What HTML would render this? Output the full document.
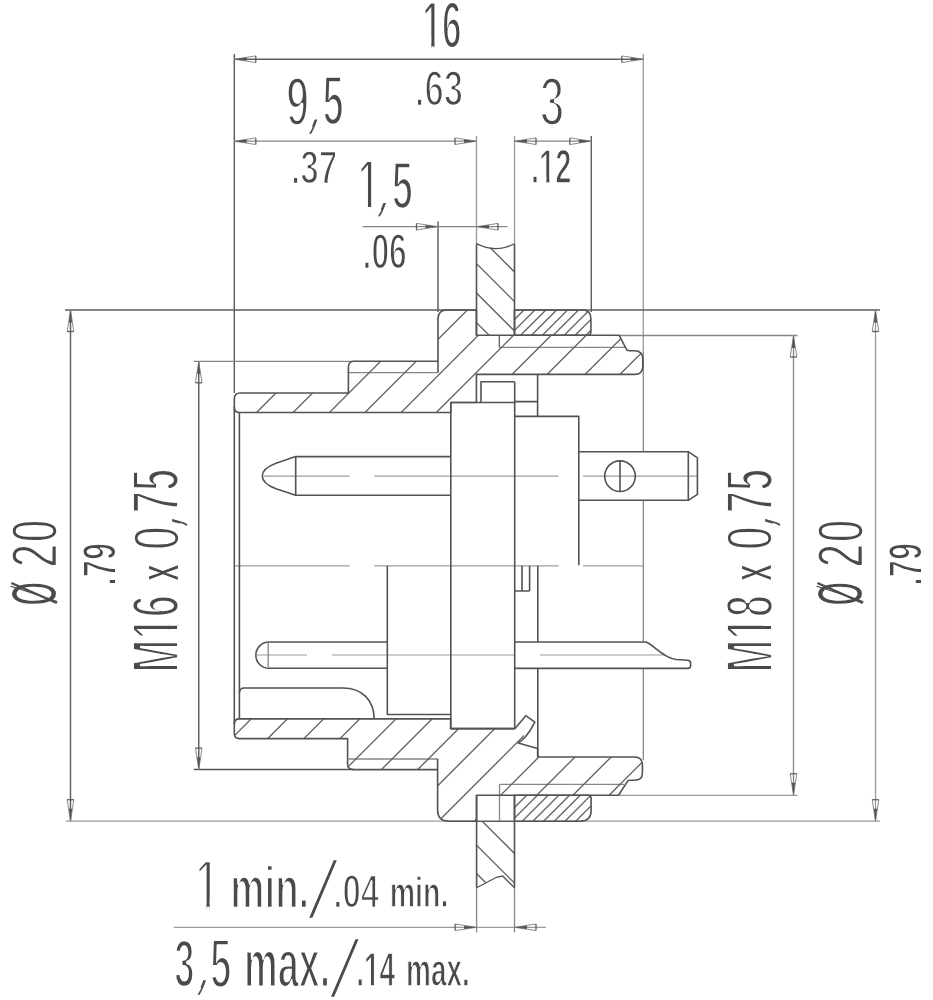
<!DOCTYPE html>
<html lang="en">
<head>
<meta charset="utf-8">
<title>Connector dimension drawing</title>
<style>
html,body{margin:0;padding:0;background:#fff;}
body{width:933px;height:1000px;overflow:hidden;font-family:"Liberation Sans",sans-serif;}
svg{display:block;filter:blur(0.7px);}
</style>
</head>
<body>
<svg width="933" height="1000" viewBox="0 0 933 1000">
<rect width="933" height="1000" fill="#fff"/>
<g fill="none" stroke-linecap="butt">
<line x1="234.30" y1="54.00" x2="234.30" y2="393.00" stroke="#5e5e5e" stroke-width="1.45"/>
<line x1="643.30" y1="54.00" x2="643.30" y2="352.00" stroke="#9a9a9a" stroke-width="1.3"/>
<line x1="643.30" y1="352.00" x2="643.30" y2="451.70" stroke="#868686" stroke-width="1.3"/>
<line x1="643.30" y1="500.30" x2="643.30" y2="642.00" stroke="#868686" stroke-width="1.3"/>
<line x1="643.30" y1="668.40" x2="643.30" y2="760.00" stroke="#868686" stroke-width="1.3"/>
<line x1="234.30" y1="59.20" x2="643.30" y2="59.20" stroke="#5e5e5e" stroke-width="1.45"/>
<line x1="234.30" y1="141.20" x2="476.50" y2="141.20" stroke="#868686" stroke-width="1.3"/>
<line x1="476.50" y1="136.00" x2="476.50" y2="243.70" stroke="#9a9a9a" stroke-width="1.3"/>
<line x1="514.50" y1="136.00" x2="514.50" y2="243.70" stroke="#9a9a9a" stroke-width="1.3"/>
<line x1="591.30" y1="136.00" x2="591.30" y2="312.00" stroke="#5e5e5e" stroke-width="1.45"/>
<line x1="514.50" y1="141.20" x2="591.30" y2="141.20" stroke="#868686" stroke-width="1.3"/>
<line x1="362.50" y1="226.70" x2="507.50" y2="226.70" stroke="#868686" stroke-width="1.3"/>
<line x1="438.00" y1="221.50" x2="438.00" y2="312.00" stroke="#5e5e5e" stroke-width="1.45"/>
<line x1="70.50" y1="310.00" x2="70.50" y2="821.20" stroke="#5e5e5e" stroke-width="1.45"/>
<line x1="65.00" y1="310.00" x2="476.40" y2="310.00" stroke="#5e5e5e" stroke-width="1.45"/>
<line x1="514.50" y1="310.00" x2="880.00" y2="310.00" stroke="#5e5e5e" stroke-width="1.45"/>
<line x1="66.00" y1="821.20" x2="476.50" y2="821.20" stroke="#9a9a9a" stroke-width="1.3"/>
<line x1="514.50" y1="821.20" x2="880.00" y2="821.20" stroke="#9a9a9a" stroke-width="1.3"/>
<line x1="476.50" y1="821.20" x2="514.50" y2="821.20" stroke="#5e5e5e" stroke-width="1.4"/>
<line x1="198.75" y1="361.30" x2="198.75" y2="769.60" stroke="#5e5e5e" stroke-width="1.45"/>
<line x1="193.75" y1="361.30" x2="356.00" y2="361.30" stroke="#868686" stroke-width="1.3"/>
<line x1="193.75" y1="769.60" x2="353.60" y2="769.60" stroke="#535353" stroke-width="1.5"/>
<line x1="793.50" y1="335.50" x2="793.50" y2="795.30" stroke="#868686" stroke-width="1.3"/>
<line x1="619.00" y1="335.50" x2="797.50" y2="335.50" stroke="#868686" stroke-width="1.3"/>
<line x1="618.50" y1="795.30" x2="797.50" y2="795.30" stroke="#9a9a9a" stroke-width="1.3"/>
<line x1="875.50" y1="310.00" x2="875.50" y2="821.20" stroke="#9a9a9a" stroke-width="1.3"/>
<line x1="173.75" y1="927.30" x2="546.00" y2="927.30" stroke="#9a9a9a" stroke-width="1.3"/>
<line x1="476.60" y1="887.80" x2="476.60" y2="932.50" stroke="#868686" stroke-width="1.3"/>
<line x1="514.50" y1="887.80" x2="514.50" y2="932.50" stroke="#868686" stroke-width="1.3"/>
<line x1="234.30" y1="565.80" x2="349.80" y2="565.80" stroke="#9c9c9c" stroke-width="1.2"/>
<line x1="374.20" y1="565.80" x2="558.60" y2="565.80" stroke="#9c9c9c" stroke-width="1.2"/>
<line x1="583.00" y1="565.80" x2="643.30" y2="565.80" stroke="#9c9c9c" stroke-width="1.2"/>
<line x1="263.60" y1="476.20" x2="349.80" y2="476.20" stroke="#9c9c9c" stroke-width="1.2"/>
<line x1="374.20" y1="476.20" x2="558.60" y2="476.20" stroke="#9c9c9c" stroke-width="1.2"/>
<line x1="583.00" y1="476.20" x2="697.40" y2="476.20" stroke="#9c9c9c" stroke-width="1.2"/>
<line x1="257.00" y1="655.00" x2="307.00" y2="655.00" stroke="#9c9c9c" stroke-width="1.2"/>
<line x1="331.80" y1="655.00" x2="515.00" y2="655.00" stroke="#9c9c9c" stroke-width="1.2"/>
<line x1="540.00" y1="655.00" x2="665.00" y2="655.00" stroke="#9c9c9c" stroke-width="1.2"/>
<line x1="348.60" y1="372.60" x2="438.00" y2="372.60" stroke="#868686" stroke-width="1.3"/>
<line x1="348.60" y1="759.00" x2="438.00" y2="759.00" stroke="#868686" stroke-width="1.3"/>
<line x1="499.30" y1="347.30" x2="626.00" y2="347.30" stroke="#868686" stroke-width="1.3"/>
<line x1="499.50" y1="784.30" x2="624.00" y2="784.30" stroke="#868686" stroke-width="1.3"/>
<line x1="499.50" y1="784.30" x2="499.50" y2="821.20" stroke="#868686" stroke-width="1.3"/>
<line x1="499.30" y1="335.30" x2="499.30" y2="347.30" stroke="#5e5e5e" stroke-width="1.3"/>
</g>
<defs>
<clipPath id="cu"><path d="M234.3,399 Q234.3,393 240.3,393 L348.4,393 L348.4,367 Q348.4,361.3 354,361.3 L438,361.3 L438,319 Q438,310 447,310 L476.4,310 L476.4,335.3 L619.2,335.3 L626.8,350 Q628,350.7 630,350.7 L634.5,350.7 Q642.8,350.7 642.8,359 L642.8,366.2 Q642.8,374.4 634.6,374.4 L476.4,374.4 L476.4,402.5 L450.8,402.5 L450.8,412.5 L239.5,412.5 Q234.3,412.5 234.3,407.3 Z"/></clipPath>
<clipPath id="cl"><path d="M234.3,733.6 Q234.3,738.6 239.3,738.6 L347.6,738.6 L347.6,764 Q347.6,769.6 353.6,769.6 L437.6,769.6 L437.6,810 Q437.6,821.2 448.8,821.2 L476.5,821.2 L476.5,795.3 L618.5,795.3 L628,780.6 Q629,780.3 631,780.3 L634.5,780.3 Q642.4,780.3 642.4,773 L642.4,765 Q642.4,757 634.6,757 L537.6,757 L537.6,748.5 L518.2,743 Q522,740.6 525.5,736.8 L521,733 L514.4,728.6 L450.6,728.6 L450.6,718.9 L239.5,718.9 Q234.3,718.9 234.3,724 Z"/></clipPath>
<clipPath id="cnu"><path d="M514.5,310 L582.5,310 Q590.9,310 590.9,318.4 L590.9,331.8 Q590.9,335.3 587.4,335.3 L514.5,335.3 Z"/></clipPath>
<clipPath id="cnl"><path d="M514.5,821.2 L580.5,821.2 Q591.1,821.2 591.1,810.6 L591.1,798.3 Q591.1,795.3 588.1,795.3 L514.5,795.3 Z"/></clipPath>
<clipPath id="cpu"><path d="M476.5,243.7 Q495.8,253.6 514.5,243.7 L514.5,335.3 L476.5,335.3 Z"/></clipPath>
<clipPath id="cpl"><path d="M476.6,821.2 L514.5,821.2 L514.5,887.8 L502.5,876 L496.5,877.3 L476.6,887.8 Z"/></clipPath>
</defs>
<g clip-path="url(#cu)" stroke="#5e5e5e" stroke-width="1.3" fill="none">
<line x1="-331.00" y1="1000" x2="669.00" y2="0"/>
<line x1="-294.40" y1="1000" x2="705.60" y2="0"/>
<line x1="-258.10" y1="1000" x2="741.90" y2="0"/>
<line x1="-222.60" y1="1000" x2="777.40" y2="0"/>
<line x1="-186.40" y1="1000" x2="813.60" y2="0"/>
<line x1="-151.20" y1="1000" x2="848.80" y2="0"/>
<line x1="-113.50" y1="1000" x2="886.50" y2="0"/>
<line x1="-78.50" y1="1000" x2="921.50" y2="0"/>
<line x1="-40.50" y1="1000" x2="959.50" y2="0"/>
<line x1="-5.70" y1="1000" x2="994.30" y2="0"/>
</g>
<g clip-path="url(#cl)" stroke="#5e5e5e" stroke-width="1.3" fill="none">
<line x1="-29.90" y1="1000" x2="970.10" y2="0"/>
<line x1="6.29" y1="1000" x2="1006.29" y2="0"/>
<line x1="42.48" y1="1000" x2="1042.48" y2="0"/>
<line x1="78.67" y1="1000" x2="1078.67" y2="0"/>
<line x1="114.86" y1="1000" x2="1114.86" y2="0"/>
<line x1="151.05" y1="1000" x2="1151.05" y2="0"/>
<line x1="187.24" y1="1000" x2="1187.24" y2="0"/>
<line x1="223.43" y1="1000" x2="1223.43" y2="0"/>
<line x1="259.62" y1="1000" x2="1259.62" y2="0"/>
<line x1="295.81" y1="1000" x2="1295.81" y2="0"/>
<line x1="332.00" y1="1000" x2="1332.00" y2="0"/>
<line x1="368.19" y1="1000" x2="1368.19" y2="0"/>
<line x1="404.38" y1="1000" x2="1404.38" y2="0"/>
</g>
<g clip-path="url(#cnu)" stroke="#5e5e5e" stroke-width="1.3" fill="none">
<line x1="-166.00" y1="1000" x2="834.00" y2="0"/>
<line x1="-155.10" y1="1000" x2="844.90" y2="0"/>
<line x1="-144.20" y1="1000" x2="855.80" y2="0"/>
<line x1="-133.30" y1="1000" x2="866.70" y2="0"/>
<line x1="-122.40" y1="1000" x2="877.60" y2="0"/>
<line x1="-111.50" y1="1000" x2="888.50" y2="0"/>
<line x1="-100.60" y1="1000" x2="899.40" y2="0"/>
<line x1="-89.70" y1="1000" x2="910.30" y2="0"/>
<line x1="-78.80" y1="1000" x2="921.20" y2="0"/>
</g>
<g clip-path="url(#cnl)" stroke="#5e5e5e" stroke-width="1.3" fill="none">
<line x1="322.00" y1="1000" x2="1322.00" y2="0"/>
<line x1="332.70" y1="1000" x2="1332.70" y2="0"/>
<line x1="343.40" y1="1000" x2="1343.40" y2="0"/>
<line x1="354.10" y1="1000" x2="1354.10" y2="0"/>
<line x1="364.80" y1="1000" x2="1364.80" y2="0"/>
<line x1="375.50" y1="1000" x2="1375.50" y2="0"/>
<line x1="386.20" y1="1000" x2="1386.20" y2="0"/>
<line x1="396.90" y1="1000" x2="1396.90" y2="0"/>
<line x1="407.60" y1="1000" x2="1407.60" y2="0"/>
</g>
<g clip-path="url(#cpu)" stroke="#5e5e5e" stroke-width="1.3" fill="none">
<line x1="242.50" y1="0" x2="1242.50" y2="1000"/>
<line x1="212.90" y1="0" x2="1212.90" y2="1000"/>
<line x1="183.50" y1="0" x2="1183.50" y2="1000"/>
<line x1="153.90" y1="0" x2="1153.90" y2="1000"/>
</g>
<g clip-path="url(#cpl)" stroke="#5e5e5e" stroke-width="1.3" fill="none">
<line x1="-339.00" y1="0" x2="661.00" y2="1000"/>
<line x1="-368.70" y1="0" x2="631.30" y2="1000"/>
<line x1="-397.00" y1="0" x2="603.00" y2="1000"/>
</g>
<g fill="none" stroke="#535353" stroke-width="1.6" stroke-linejoin="round">
<path d="M234.3,399 Q234.3,393 240.3,393 L348.4,393 L348.4,367 Q348.4,361.3 354,361.3 L438,361.3 L438,319 Q438,310 447,310 L476.4,310 L476.4,335.3 L619.2,335.3 L626.8,350 Q628,350.7 630,350.7 L634.5,350.7 Q642.8,350.7 642.8,359 L642.8,366.2 Q642.8,374.4 634.6,374.4 L476.4,374.4 L476.4,402.5 L450.8,402.5 L450.8,412.5 L239.5,412.5 Q234.3,412.5 234.3,407.3 Z"/>
<path d="M514.4,728.6 L450.6,728.6 L450.6,718.9 L239.5,718.9 Q234.3,718.9 234.3,724 L234.3,733.6 Q234.3,738.6 239.3,738.6 L347.6,738.6 L347.6,764 Q347.6,769.6 353.6,769.6 L437.6,769.6 L437.6,810 Q437.6,821.2 448.8,821.2 L476.5,821.2 L476.5,795.3 L618.5,795.3 L628,780.6 Q629,780.3 631,780.3 L634.5,780.3 Q642.4,780.3 642.4,773 L642.4,765 Q642.4,757 634.6,757 L537.6,757 L537.6,748.5"/>
<path d="M514.5,310 L582.5,310 Q590.9,310 590.9,318.4 L590.9,331.8 Q590.9,335.3 587.4,335.3 L514.5,335.3 Z"/>
<path d="M514.5,821.2 L580.5,821.2 Q591.1,821.2 591.1,810.6 L591.1,798.3 Q591.1,795.3 588.1,795.3 L514.5,795.3 Z"/>
<path d="M476.5,243.7 L476.5,335.3 M514.5,243.7 L514.5,335.3"/>
<path d="M476.5,243.7 Q495.8,253.6 514.5,243.7" stroke-width="1.3"/>
<path d="M476.6,795.3 L476.6,887.8 M514.5,795.3 L514.5,887.8"/>
<path d="M476.6,887.8 L496.5,877.3 L502.5,876 L514.5,887.8" stroke-width="1.3"/>
<path d="M438,361.3 L438,372.6 M437.6,769.6 L437.6,759"/>
<path d="M234.3,407 L234.3,724 M239.4,412.5 L239.4,718.9"/>
<path d="M450.8,402.5 L450.8,728.6 L514.5,728.6 M514.7,381.7 L514.7,728.6 M450.8,402.5 L514.7,402.5"/>
<path d="M481,402.5 L481,381.7 L514.7,381.7"/>
<path d="M514.7,401.6 L537.6,401.6 M537.6,374.4 L537.6,416.4 M514.7,416.4 L578.8,416.4 L578.8,565.2"/>
<path d="M578.8,451.7 L688.3,451.7 L697.4,457.8 L697.4,494.4 L688.3,500.3 L578.8,500.3 M688.3,451.7 L688.3,500.3"/>
<circle cx="620" cy="476.2" r="15.3"/>
<path d="M620,460.9 L620,491.5"/>
<path d="M450.8,456.6 L295.7,456.6 L276,463.2 Q262.3,468.4 262.3,476 Q262.3,483.6 276,488.8 L295.7,495.2 L450.8,495.2 M295.7,456.6 L295.7,495.2"/>
<path d="M387.3,565.8 L387.3,714.5 L450.8,714.5"/>
<path d="M387.3,642 L269,642 A13.15,13.15 0 0 0 269,668.3 L387.3,668.3"/>
<path d="M268.2,643 L268.2,667.5" stroke="#868686" stroke-width="1.3"/>
<path d="M522,565.8 L522,591 M529.6,565.8 L529.6,591 M514.7,591 L529.6,591"/>
<path d="M537.8,565.8 L537.8,642 M537.8,668.4 L537.8,757"/>
<path d="M514.7,642 L646,642 C655.5,646 662,657.2 676,659.5 L687.5,660.2 Q690.6,660.4 690.6,663.2 L690.6,665.8 Q690.6,668.4 688,668.4 L514.7,668.4"/>
<path d="M239.4,693 Q239.4,688 244.4,688 L343,688 C362,688 374,700 374.2,718.9"/>
<path d="M514.6,729 L525.8,715.7 L534.8,722.2 Q530.5,731 525.5,736.8 Q522,740.6 518.2,743 L537.6,748.5"/>
</g>
<path d="M255.80,55.90 L234.30,59.20 L255.80,62.50" fill="none" stroke="#8c8c8c" stroke-width="1" stroke-linejoin="miter"/>
<path d="M255.80,55.90 L255.80,62.50" fill="none" stroke="#5e5e5e" stroke-width="1.3"/>
<path d="M234.30,59.20 L246.77,57.55 L246.77,60.85 Z" fill="#535353" stroke="none"/>
<path d="M621.80,62.50 L643.30,59.20 L621.80,55.90" fill="none" stroke="#8c8c8c" stroke-width="1" stroke-linejoin="miter"/>
<path d="M621.80,62.50 L621.80,55.90" fill="none" stroke="#5e5e5e" stroke-width="1.3"/>
<path d="M643.30,59.20 L630.83,60.85 L630.83,57.55 Z" fill="#535353" stroke="none"/>
<path d="M255.80,137.90 L234.30,141.20 L255.80,144.50" fill="none" stroke="#8c8c8c" stroke-width="1" stroke-linejoin="miter"/>
<path d="M255.80,137.90 L255.80,144.50" fill="none" stroke="#5e5e5e" stroke-width="1.3"/>
<path d="M234.30,141.20 L246.77,139.55 L246.77,142.85 Z" fill="#535353" stroke="none"/>
<path d="M455.00,144.50 L476.50,141.20 L455.00,137.90" fill="none" stroke="#8c8c8c" stroke-width="1" stroke-linejoin="miter"/>
<path d="M455.00,144.50 L455.00,137.90" fill="none" stroke="#5e5e5e" stroke-width="1.3"/>
<path d="M476.50,141.20 L464.03,142.85 L464.03,139.55 Z" fill="#535353" stroke="none"/>
<path d="M536.00,137.90 L514.50,141.20 L536.00,144.50" fill="none" stroke="#8c8c8c" stroke-width="1" stroke-linejoin="miter"/>
<path d="M536.00,137.90 L536.00,144.50" fill="none" stroke="#5e5e5e" stroke-width="1.3"/>
<path d="M514.50,141.20 L526.97,139.55 L526.97,142.85 Z" fill="#535353" stroke="none"/>
<path d="M569.80,144.50 L591.30,141.20 L569.80,137.90" fill="none" stroke="#8c8c8c" stroke-width="1" stroke-linejoin="miter"/>
<path d="M569.80,144.50 L569.80,137.90" fill="none" stroke="#5e5e5e" stroke-width="1.3"/>
<path d="M591.30,141.20 L578.83,142.85 L578.83,139.55 Z" fill="#535353" stroke="none"/>
<path d="M416.50,230.00 L438.00,226.70 L416.50,223.40" fill="none" stroke="#8c8c8c" stroke-width="1" stroke-linejoin="miter"/>
<path d="M416.50,230.00 L416.50,223.40" fill="none" stroke="#5e5e5e" stroke-width="1.3"/>
<path d="M438.00,226.70 L425.53,228.35 L425.53,225.05 Z" fill="#535353" stroke="none"/>
<path d="M498.00,223.40 L476.50,226.70 L498.00,230.00" fill="none" stroke="#8c8c8c" stroke-width="1" stroke-linejoin="miter"/>
<path d="M498.00,223.40 L498.00,230.00" fill="none" stroke="#5e5e5e" stroke-width="1.3"/>
<path d="M476.50,226.70 L488.97,225.05 L488.97,228.35 Z" fill="#535353" stroke="none"/>
<path d="M73.80,331.50 L70.50,310.00 L67.20,331.50" fill="none" stroke="#8c8c8c" stroke-width="1" stroke-linejoin="miter"/>
<path d="M73.80,331.50 L67.20,331.50" fill="none" stroke="#5e5e5e" stroke-width="1.3"/>
<path d="M70.50,310.00 L72.15,322.47 L68.85,322.47 Z" fill="#535353" stroke="none"/>
<path d="M67.20,799.70 L70.50,821.20 L73.80,799.70" fill="none" stroke="#8c8c8c" stroke-width="1" stroke-linejoin="miter"/>
<path d="M67.20,799.70 L73.80,799.70" fill="none" stroke="#5e5e5e" stroke-width="1.3"/>
<path d="M70.50,821.20 L68.85,808.73 L72.15,808.73 Z" fill="#535353" stroke="none"/>
<path d="M202.05,382.80 L198.75,361.30 L195.45,382.80" fill="none" stroke="#8c8c8c" stroke-width="1" stroke-linejoin="miter"/>
<path d="M202.05,382.80 L195.45,382.80" fill="none" stroke="#5e5e5e" stroke-width="1.3"/>
<path d="M198.75,361.30 L200.40,373.77 L197.10,373.77 Z" fill="#535353" stroke="none"/>
<path d="M195.45,748.10 L198.75,769.60 L202.05,748.10" fill="none" stroke="#8c8c8c" stroke-width="1" stroke-linejoin="miter"/>
<path d="M195.45,748.10 L202.05,748.10" fill="none" stroke="#5e5e5e" stroke-width="1.3"/>
<path d="M198.75,769.60 L197.10,757.13 L200.40,757.13 Z" fill="#535353" stroke="none"/>
<path d="M796.80,357.00 L793.50,335.50 L790.20,357.00" fill="none" stroke="#8c8c8c" stroke-width="1" stroke-linejoin="miter"/>
<path d="M796.80,357.00 L790.20,357.00" fill="none" stroke="#5e5e5e" stroke-width="1.3"/>
<path d="M793.50,335.50 L795.15,347.97 L791.85,347.97 Z" fill="#535353" stroke="none"/>
<path d="M790.20,773.80 L793.50,795.30 L796.80,773.80" fill="none" stroke="#8c8c8c" stroke-width="1" stroke-linejoin="miter"/>
<path d="M790.20,773.80 L796.80,773.80" fill="none" stroke="#5e5e5e" stroke-width="1.3"/>
<path d="M793.50,795.30 L791.85,782.83 L795.15,782.83 Z" fill="#535353" stroke="none"/>
<path d="M878.80,331.50 L875.50,310.00 L872.20,331.50" fill="none" stroke="#8c8c8c" stroke-width="1" stroke-linejoin="miter"/>
<path d="M878.80,331.50 L872.20,331.50" fill="none" stroke="#5e5e5e" stroke-width="1.3"/>
<path d="M875.50,310.00 L877.15,322.47 L873.85,322.47 Z" fill="#535353" stroke="none"/>
<path d="M872.20,799.70 L875.50,821.20 L878.80,799.70" fill="none" stroke="#8c8c8c" stroke-width="1" stroke-linejoin="miter"/>
<path d="M872.20,799.70 L878.80,799.70" fill="none" stroke="#5e5e5e" stroke-width="1.3"/>
<path d="M875.50,821.20 L873.85,808.73 L877.15,808.73 Z" fill="#535353" stroke="none"/>
<path d="M455.10,930.60 L476.60,927.30 L455.10,924.00" fill="none" stroke="#8c8c8c" stroke-width="1" stroke-linejoin="miter"/>
<path d="M455.10,930.60 L455.10,924.00" fill="none" stroke="#5e5e5e" stroke-width="1.3"/>
<path d="M476.60,927.30 L464.13,928.95 L464.13,925.65 Z" fill="#535353" stroke="none"/>
<path d="M536.00,924.00 L514.50,927.30 L536.00,930.60" fill="none" stroke="#8c8c8c" stroke-width="1" stroke-linejoin="miter"/>
<path d="M536.00,924.00 L536.00,930.60" fill="none" stroke="#5e5e5e" stroke-width="1.3"/>
<path d="M514.50,927.30 L526.97,925.65 L526.97,928.95 Z" fill="#535353" stroke="none"/>
<g fill="#4a4a4a" font-family="'Liberation Sans', sans-serif" font-size="100">
<clipPath id="k1"><path clip-rule="evenodd" d="M-20,-130 H131.2 V45 H-20 Z M4.00,-14.11 H25.61 V1.40 H4.00 Z M34.69,-14.11 H55.00 V1.40 H34.69 Z"/></clipPath>
<text transform="translate(422.29,47.56) scale(0.3525,0.6751)" stroke="#fff" stroke-width="4.62" stroke-linejoin="miter" font-weight="bold" clip-path="url(#k1)">16</text>
<text transform="translate(285.88,125.73) scale(0.4179,0.7058)" stroke="#fff" stroke-width="6.04" stroke-linejoin="miter" font-weight="bold">9</text>
<text transform="translate(310.78,125.68) skewX(-20.70) scale(0.2041,0.5404)" stroke="#4a4a4a" stroke-width="1.3" vector-effect="non-scaling-stroke">,</text>
<text transform="translate(322.41,125.46) scale(0.3806,0.7023)" stroke="#fff" stroke-width="5.29" stroke-linejoin="miter" font-weight="bold">5</text>
<text transform="translate(414.72,105.80) scale(0.3486,0.4957)" stroke="#fff" stroke-width="5.24" stroke-linejoin="miter" font-weight="bold">.63</text>
<text transform="translate(539.46,126.07) scale(0.4528,0.7005)" stroke="#fff" stroke-width="6.63" stroke-linejoin="miter" font-weight="bold">3</text>
<text transform="translate(290.92,183.68) scale(0.3335,0.4850)" stroke="#fff" stroke-width="4.85" stroke-linejoin="miter" font-weight="bold">.37</text>
<clipPath id="k2"><path clip-rule="evenodd" d="M-20,-130 H75.6 V45 H-20 Z M4.00,-14.57 H26.06 V1.40 H4.00 Z M34.23,-14.57 H55.00 V1.40 H34.23 Z"/></clipPath>
<text transform="translate(357.76,209.13) scale(0.3916,0.6986)" stroke="#fff" stroke-width="5.53" stroke-linejoin="miter" font-weight="bold" clip-path="url(#k2)">1</text>
<text transform="translate(379.61,209.33) skewX(-21.04) scale(0.2041,0.4979)" stroke="#4a4a4a" stroke-width="1.3" vector-effect="non-scaling-stroke">,</text>
<text transform="translate(391.81,209.02) scale(0.3806,0.6881)" stroke="#fff" stroke-width="5.29" stroke-linejoin="miter" font-weight="bold">5</text>
<clipPath id="k3"><path clip-rule="evenodd" d="M-20,-130 H159.0 V45 H-20 Z M31.78,-13.58 H52.86 V1.40 H31.78 Z M63.00,-13.58 H82.78 V1.40 H63.00 Z"/></clipPath>
<text transform="translate(531.01,183.35) scale(0.2908,0.4793)" stroke="#fff" stroke-width="3.56" stroke-linejoin="miter" font-weight="bold" clip-path="url(#k3)">.12</text>
<text transform="translate(362.52,269.43) scale(0.3190,0.5065)" stroke="#fff" stroke-width="4.45" stroke-linejoin="miter" font-weight="bold">.06</text>
<clipPath id="k4"><path clip-rule="evenodd" d="M-20,-130 H75.6 V45 H-20 Z M4.00,-14.91 H26.41 V1.40 H4.00 Z M33.89,-14.91 H55.00 V1.40 H33.89 Z"/></clipPath>
<text transform="translate(195.16,908.82) scale(0.4277,0.7127)" stroke="#fff" stroke-width="6.22" stroke-linejoin="miter" font-weight="bold" clip-path="url(#k4)">1</text>
<text transform="translate(230.34,907.89) scale(0.3840,0.5955)" stroke="#fff" stroke-width="4.32" stroke-linejoin="miter" font-weight="bold">min.</text>
<text transform="translate(309.43,917.02) skewX(-16.181) scale(0.3896,0.7823)">/</text>
<text transform="translate(333.26,907.74) scale(0.3309,0.4753)" stroke="#fff" stroke-width="4.79" stroke-linejoin="miter" font-weight="bold">.04</text>
<text transform="translate(389.65,907.28) scale(0.2859,0.4214)" stroke="#fff" stroke-width="3.21" stroke-linejoin="miter" font-weight="bold">min.</text>
<text transform="translate(174.37,987.39) scale(0.3639,0.6873)" stroke="#fff" stroke-width="4.91" stroke-linejoin="miter" font-weight="bold">3</text>
<text transform="translate(199.23,987.33) skewX(-20.95) scale(0.2041,0.5447)" stroke="#4a4a4a" stroke-width="1.3" vector-effect="non-scaling-stroke">,</text>
<text transform="translate(209.96,987.59) scale(0.3861,0.6973)" stroke="#fff" stroke-width="5.41" stroke-linejoin="miter" font-weight="bold">5</text>
<text transform="translate(244.01,987.15) scale(0.3787,0.6900)" stroke="#fff" stroke-width="4.19" stroke-linejoin="miter" font-weight="bold">max.</text>
<text transform="translate(331.33,995.92) skewX(-16.181) scale(0.3896,0.7823)">/</text>
<clipPath id="k5"><path clip-rule="evenodd" d="M-20,-130 H159.0 V45 H-20 Z M31.78,-13.38 H52.67 V1.40 H31.78 Z M63.20,-13.38 H82.78 V1.40 H63.20 Z"/></clipPath>
<text transform="translate(356.25,986.35) scale(0.2801,0.4723)" stroke="#fff" stroke-width="3.17" stroke-linejoin="miter" font-weight="bold" clip-path="url(#k5)">.14</text>
<text transform="translate(406.03,986.28) scale(0.2800,0.4537)" stroke="#fff" stroke-width="2.99" stroke-linejoin="miter" font-weight="bold">max.</text>
<text transform="translate(57.10,605.76) rotate(-90) scale(0.3092,0.6677)" stroke="#fff" stroke-width="4.5" font-weight="bold">Ø</text>
<text transform="translate(57.83,567.98) rotate(-90) scale(0.4427,0.6885)" stroke="#fff" stroke-width="6.47" stroke-linejoin="miter" font-weight="bold">20</text>
<text transform="translate(115.50,585.72) rotate(-90) scale(0.3071,0.4885)" stroke="#fff" stroke-width="4.09" stroke-linejoin="miter" font-weight="bold">.79</text>
<clipPath id="k6"><path clip-rule="evenodd" d="M-20,-130 H214.5 V45 H-20 Z M87.30,-14.66 H109.46 V1.40 H87.30 Z M117.45,-14.66 H138.30 V1.40 H117.45 Z"/></clipPath>
<text transform="translate(179.44,672.83) rotate(-90) scale(0.4006,0.6787)" stroke="#fff" stroke-width="5.71" stroke-linejoin="miter" font-weight="bold" clip-path="url(#k6)">M16</text>
<text transform="translate(178.56,581.27) rotate(-90) scale(0.3115,0.6009)" stroke="#fff" stroke-width="3.54" stroke-linejoin="miter" font-weight="bold">x</text>
<text transform="translate(179.85,550.94) rotate(-90) scale(0.4644,0.6905)" stroke="#fff" stroke-width="6.8" stroke-linejoin="miter" font-weight="bold">0</text>
<text transform="translate(178.66,524.98) rotate(-90) skewX(-15.15) scale(0.2041,0.5660)" stroke="#4a4a4a" stroke-width="1.3" vector-effect="non-scaling-stroke">,</text>
<text transform="translate(179.45,513.24) rotate(-90) scale(0.3982,0.6890)" stroke="#fff" stroke-width="5.66" stroke-linejoin="miter" font-weight="bold">75</text>
<clipPath id="k7"><path clip-rule="evenodd" d="M-20,-130 H214.5 V45 H-20 Z M87.30,-14.64 H109.45 V1.40 H87.30 Z M117.46,-14.64 H138.30 V1.40 H117.46 Z"/></clipPath>
<text transform="translate(772.93,672.81) rotate(-90) scale(0.3994,0.6785)" stroke="#fff" stroke-width="5.69" stroke-linejoin="miter" font-weight="bold" clip-path="url(#k7)">M18</text>
<text transform="translate(772.06,581.27) rotate(-90) scale(0.3115,0.6009)" stroke="#fff" stroke-width="3.54" stroke-linejoin="miter" font-weight="bold">x</text>
<text transform="translate(773.35,550.94) rotate(-90) scale(0.4644,0.6905)" stroke="#fff" stroke-width="6.8" stroke-linejoin="miter" font-weight="bold">0</text>
<text transform="translate(772.16,524.98) rotate(-90) skewX(-15.15) scale(0.2041,0.5660)" stroke="#4a4a4a" stroke-width="1.3" vector-effect="non-scaling-stroke">,</text>
<text transform="translate(772.95,513.24) rotate(-90) scale(0.3982,0.6890)" stroke="#fff" stroke-width="5.66" stroke-linejoin="miter" font-weight="bold">75</text>
<text transform="translate(863.10,605.76) rotate(-90) scale(0.3092,0.6677)" stroke="#fff" stroke-width="4.5" font-weight="bold">Ø</text>
<text transform="translate(863.83,567.98) rotate(-90) scale(0.4427,0.6885)" stroke="#fff" stroke-width="6.47" stroke-linejoin="miter" font-weight="bold">20</text>
<text transform="translate(921.50,585.72) rotate(-90) scale(0.3071,0.4885)" stroke="#fff" stroke-width="4.09" stroke-linejoin="miter" font-weight="bold">.79</text>
</g>
<line x1="11.40" y1="583.00" x2="56.80" y2="603.00" stroke="#4a4a4a" stroke-width="2.3"/>
<line x1="817.40" y1="583.00" x2="862.80" y2="603.00" stroke="#4a4a4a" stroke-width="2.3"/>
</svg>
</body>
</html>
